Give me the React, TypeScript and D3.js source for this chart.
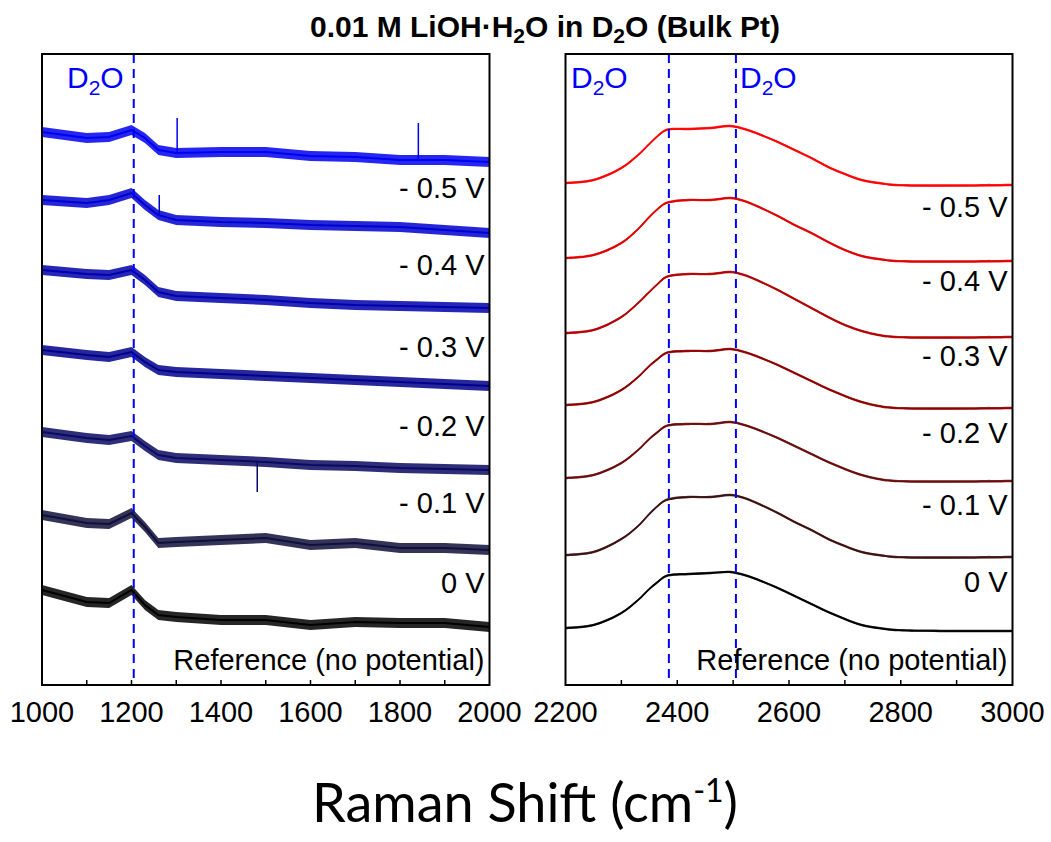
import React from 'react'
import * as d3 from 'd3'

// Raman shift sample points (cm-1)
const leftShift = [1000, 1100, 1150, 1200, 1230, 1260, 1300, 1400, 1500, 1600, 1700, 1800, 1900, 2000]
const rightShift = [2200, 2250, 2300, 2330, 2350, 2365, 2380, 2420, 2460, 2495, 2520, 2550, 2580, 2610, 2640, 2670, 2700, 2730, 2760, 2790, 3000]

const potentials = ['- 0.5 V', '- 0.4 V', '- 0.3 V', '- 0.2 V', '- 0.1 V', '0 V', 'Reference (no potential)']

// stacked intensities (a.u., offset) - left window 1000-2000
const left05 = [55.3, 54.7, 54.8, 55.5, 54.7, 53.5, 53.2, 53.3, 53.3, 52.9, 52.8, 52.5, 52.5, 52.3]
const left04 = [48.5, 48.2, 48.5, 49.2, 48.0, 47.0, 46.5, 46.3, 46.2, 46.0, 45.9, 45.8, 45.5, 45.2]
const left03 = [41.5, 41.1, 41.0, 41.5, 40.5, 39.3, 38.9, 38.7, 38.5, 38.2, 38.0, 37.9, 37.8, 37.7]
const left02 = [33.5, 33.0, 32.8, 33.3, 32.3, 31.5, 31.3, 31.1, 30.9, 30.7, 30.5, 30.3, 30.1, 29.9]
const left01 = [25.3, 24.7, 24.5, 24.9, 23.9, 23.0, 22.7, 22.5, 22.3, 22.0, 21.9, 21.7, 21.6, 21.5]
const left00 = [17.0, 16.2, 16.1, 17.2, 15.8, 14.2, 14.3, 14.5, 14.7, 14.0, 14.2, 13.7, 13.7, 13.5]
const leftRef = [9.5, 8.3, 8.2, 9.5, 8.0, 7.0, 6.8, 6.5, 6.5, 6.0, 6.3, 6.2, 6.2, 5.8]

// right window 2200-3000
const right05 = [50.2, 50.5, 51.7, 53.0, 54.1, 54.9, 55.5, 55.6, 55.7, 55.9, 55.6, 55.0, 54.3, 53.5, 52.7, 51.8, 51.1, 50.5, 50.2, 50.0, 50.0]
const right04 = [42.7, 43.0, 44.2, 45.6, 46.8, 47.6, 48.2, 48.5, 48.5, 48.7, 48.4, 47.7, 46.9, 46.0, 45.2, 44.3, 43.5, 42.9, 42.6, 42.4, 42.4]
const right03 = [35.2, 35.5, 36.8, 38.2, 39.3, 40.1, 40.8, 41.1, 41.1, 41.3, 41.0, 40.3, 39.5, 38.6, 37.7, 36.8, 36.0, 35.4, 35.0, 34.8, 34.8]
const right02 = [28.0, 28.3, 29.5, 30.8, 31.9, 32.6, 33.2, 33.4, 33.4, 33.6, 33.3, 32.7, 32.0, 31.2, 30.4, 29.6, 28.9, 28.3, 27.9, 27.7, 27.7]
const right01 = [20.7, 21.0, 22.2, 23.5, 24.6, 25.3, 25.9, 26.1, 26.1, 26.3, 26.0, 25.4, 24.7, 23.9, 23.1, 22.3, 21.6, 21.0, 20.6, 20.4, 20.4]
const right00 = [13.0, 13.3, 14.6, 15.9, 17.1, 17.9, 18.5, 18.8, 18.8, 19.0, 18.7, 18.0, 17.2, 16.3, 15.5, 14.6, 13.9, 13.3, 13.0, 12.8, 12.8]
const rightRef = [5.7, 6.0, 7.2, 8.5, 9.6, 10.3, 10.9, 11.1, 11.2, 11.3, 11.0, 10.4, 9.7, 8.9, 8.1, 7.3, 6.6, 6.0, 5.7, 5.5, 5.4]

// single spikes seen in the noisy window: [trace, shift, tip]
const leftSpikes = [[0, 1302, 56.7], [0, 1841, 56.2], [1, 1262, 49.0], [4, 1481, 19.3]]

// D2O band positions (dashed lines)
const d2oLeft = [1205]
const d2oRight = [2385, 2505]

const leftTicks = [1000, 1200, 1400, 1600, 1800, 2000]
const rightTicks = [2200, 2400, 2600, 2800, 3000]

const leftSeries = [left05, left04, left03, left02, left01, left00, leftRef]
const rightSeries = [right05, right04, right03, right02, right01, right00, rightRef]

const blues = ['#0000f0', '#0000d2', '#0000ac', '#00008c', '#0a0a62', '#10103c', '#000000']
const reds = ['#ff0000', '#e00000', '#b40000', '#900000', '#6a0c0c', '#3e1010', '#000000']

// label baselines (a.u.) under each trace
const leftLabelY = [48.7, 41.0, 32.8, 24.9, 17.2, 9.2, 1.5]
const rightLabelY = [46.8, 39.4, 31.9, 24.2, 17.0, 9.3, 1.5]

const W = 1051
const H = 842
const top = 54
const bottom = 685
const font = 'Liberation Sans, Arial, sans-serif'

const y = d3.scaleLinear().domain([0, 63.1]).range([bottom, top])

function Panel({ x, shifts, series, colors, ticks, minor, d2o, labelY, noise, curve, spikes, d2oLabels, lineW }) {
  const [x0, x1] = x.range()
  const line = d3.line<number>().x((_, i) => x(shifts[i])).y(v => y(v)).curve(curve)
  const band = d3.area<number>()
    .x((_, i) => x(shifts[i]))
    .y0(v => y(v - noise))
    .y1(v => y(v + noise))
    .curve(curve)
  return (
    <g>
      {series.map((s, k) => (
        <g key={k}>
          <path d={band(s)} fill={colors[k]} opacity={0.85} />
          <path d={line(s)} fill="none" stroke={colors[k]} strokeWidth={lineW} />
        </g>
      ))}
      {spikes.map(([k, sx, tip], i) => {
        const base = d3.scaleLinear(shifts, series[k])(sx)
        return <line key={i} x1={x(sx)} x2={x(sx)} y1={y(base)} y2={y(tip)} stroke={colors[k]} strokeWidth={1.5} />
      })}
      {d2o.map(d => (
        <line key={d} x1={x(d)} x2={x(d)} y1={top} y2={bottom} stroke="#0000ff" strokeWidth={2} strokeDasharray="9,6" />
      ))}
      {potentials.map((p, k) => (
        <text key={p} x={x1 - 5} y={y(labelY[k])} textAnchor="end" fontSize={29} fontFamily={font} fill="#000">{p}</text>
      ))}
      {d2oLabels.map((lx, i) => (
        <text key={i} x={lx} y={88} fontSize={30} fontFamily={font} fill="#0000ff">
          D<tspan dy={7} fontSize={21}>2</tspan><tspan dy={-7}>O</tspan>
        </text>
      ))}
      {minor.map(t => (
        <line key={t} x1={x(t)} x2={x(t)} y1={bottom} y2={bottom - 5} stroke="#000" strokeWidth={1.5} />
      ))}
      <rect x={x0} y={top} width={x1 - x0} height={bottom - top} fill="none" stroke="#000" strokeWidth={2} />
      {ticks.map(t => (
        <text key={t} x={x(t)} y={722} textAnchor="middle" fontSize={29} fontFamily={font} fill="#000">{t}</text>
      ))}
    </g>
  )
}

export default function App() {
  const xl = d3.scaleLinear().domain([1000, 2000]).range([42, 489.5])
  const xr = d3.scaleLinear().domain([2200, 3000]).range([565.5, 1012.5])
  const minorL = d3.range(1100, 2000, 100)
  const minorR = d3.range(2300, 3000, 100)
  return (
    <svg width={W} height={H} style={{ position: 'absolute', left: 0, top: 0, background: '#fff' }}>
      <rect width={W} height={H} fill="#fff" />
      <text x={545} y={37} textAnchor="middle" fontSize={30} fontWeight="bold" fontFamily={font} fill="#000">
        0.01 M LiOH·H<tspan dy={6} fontSize={21}>2</tspan><tspan dy={-6}>O in D</tspan><tspan dy={6} fontSize={21}>2</tspan><tspan dy={-6}>O (Bulk Pt)</tspan>
      </text>
      <Panel x={xl} shifts={leftShift} series={leftSeries} colors={blues} ticks={leftTicks} minor={minorL}
        d2o={d2oLeft} labelY={leftLabelY} noise={0.5} curve={d3.curveLinear} spikes={leftSpikes} d2oLabels={[67]} lineW={2} />
      <Panel x={xr} shifts={rightShift} series={rightSeries} colors={reds} ticks={rightTicks} minor={minorR}
        d2o={d2oRight} labelY={rightLabelY} noise={0.12} curve={d3.curveCatmullRom.alpha(0.5)} spikes={[]} d2oLabels={[571, 740]} lineW={1.6} />
      <text x={525} y={822} textAnchor="middle" fontSize={54} fontFamily="Lato, 'Open Sans', sans-serif" fill="#000">
        Raman Shift (cm<tspan dy={-20} fontSize={32}>-1</tspan><tspan dy={20}>)</tspan>
      </text>
    </svg>
  )
}
